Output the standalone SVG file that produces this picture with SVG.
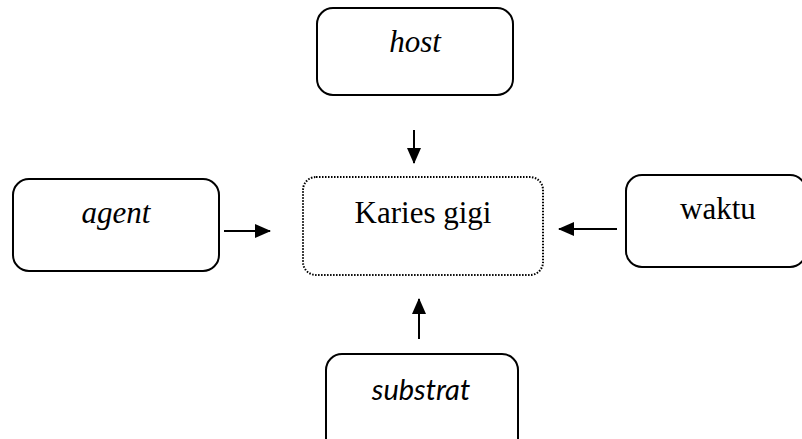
<svg xmlns="http://www.w3.org/2000/svg" width="802" height="439" viewBox="0 0 802 439">
<style>
.box{fill:#fff;stroke:#000;stroke-width:2}
.dot{fill:#fff;stroke:#000;stroke-width:2;stroke-dasharray:1.5 1.5}
.c{stroke:#000;stroke-width:2;fill:none}
</style>
<defs>
<marker id="ah" viewBox="0 0 16 14" refX="15" refY="7" markerWidth="16" markerHeight="14" markerUnits="userSpaceOnUse" orient="auto">
<path d="M0,0 L16,7 L0,14 z" fill="#000"/>
</marker>
</defs>
<g id="connectors">
<line class="c" x1="414" y1="130" x2="414" y2="163" marker-end="url(#ah)"/>
<line class="c" x1="224" y1="231" x2="270" y2="231" marker-end="url(#ah)"/>
<line class="c" x1="617" y1="229" x2="559" y2="229" marker-end="url(#ah)"/>
<line class="c" x1="419" y1="339" x2="419" y2="299" marker-end="url(#ah)"/>
</g>
<g id="host">
<rect class="box" x="317" y="8" width="196" height="87" rx="16"/>
<text x="415" y="52" font-family="'Liberation Serif', serif" font-style="italic" font-size="31" text-anchor="middle" fill="#000">host</text>
</g>
<g id="karies">
<rect class="dot" x="303" y="177" width="240" height="98" rx="13"/>
<text x="423" y="223" font-family="'Liberation Serif', serif" font-size="31" text-anchor="middle" fill="#000">Karies gigi</text>
</g>
<g id="agent">
<rect class="box" x="13" y="179" width="206" height="92" rx="16"/>
<text x="116" y="223" font-family="'Liberation Serif', serif" font-style="italic" font-size="31" text-anchor="middle" fill="#000">agent</text>
</g>
<g id="waktu">
<rect class="box" x="626" y="175" width="180" height="92" rx="16"/>
<text x="718" y="219" font-family="'Liberation Serif', serif" font-size="31" text-anchor="middle" fill="#000">waktu</text>
</g>
<g id="substrat">
<rect class="box" x="326" y="354" width="192" height="100" rx="16"/>
<text x="421" y="400" font-family="Lato, 'Open Sans', sans-serif" font-style="italic" font-size="29" text-anchor="middle" fill="#000">substrat</text>
</g>
</svg>
